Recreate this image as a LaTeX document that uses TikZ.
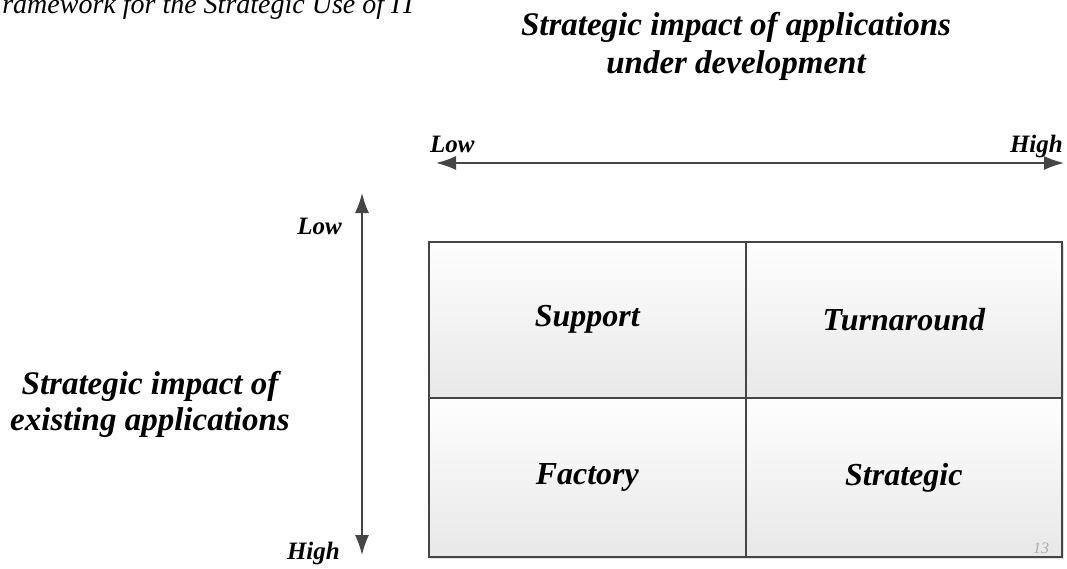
\documentclass[tikz,border=0pt]{standalone}
\usepackage{fontspec}
\setmainfont{Liberation Serif}
\usetikzlibrary{arrows.meta}
\definecolor{edge}{HTML}{454545}
\definecolor{celltop}{HTML}{FEFEFE}
\definecolor{cellbot}{HTML}{E8E8E8}
\tikzset{
  cell/.style={draw=edge, line width=1.6pt, top color=celltop, bottom color=cellbot, inner sep=0pt, font=\fontsize{32}{38}\selectfont\bfseries\itshape},
  axis/.style={draw=edge, line width=1.6pt, {Latex[length=20pt,width=14pt]}-{Latex[length=20pt,width=14pt]}},
  lbl/.style={font=\fontsize{25}{30}\selectfont\bfseries\itshape, inner sep=0pt},
  head/.style={font=\fontsize{33}{40}\selectfont\bfseries\itshape, align=center, inner sep=0pt}
}
\begin{document}
\begin{tikzpicture}[x=1pt,y=-1pt]
\useasboundingbox (0,0) rectangle (1067,568);
% outer shadow
\fill[black, opacity=0.12] (431,244) rectangle (1064,559);
% cells
\node[cell, anchor=north west, minimum width=317pt, minimum height=156pt] (sup) at (428,241) {Support};
\node[cell, anchor=north west, minimum width=316pt, minimum height=156pt] (tur) at (745,241) {Turnaround};
\node[cell, anchor=north west, minimum width=317pt, minimum height=159pt] (fac) at (428,397) {Factory};
\node[cell, anchor=north west, minimum width=316pt, minimum height=159pt] (str) at (745,397) {Strategic};
% axes
\coordinate (hl) at (436,163);
\coordinate (hr) at (1064,163);
\draw[axis] (hl) -- (hr);
\coordinate (vt) at (362,193);
\coordinate (vb) at (362,555);
\draw[axis] (vt) -- (vb);
% axis labels
\node[lbl, anchor=base west] (lowh) at (430,152) {Low};
\node[lbl, anchor=base east] (highh) at (1063,152) {High};
\node[lbl, anchor=base east] (lowv) at (342,234) {Low};
\node[lbl, anchor=base east] (highv) at (340,559) {High};
% headings
\node[head, anchor=base] (top) at (736,35) {Strategic impact of applications};
\node[head, anchor=base] (top2) at (736,73) {under development};
\node[head, anchor=base] (left) at (150,394) {Strategic impact of};
\node[head, anchor=base] (left2) at (150,430) {existing applications};
\node[font=\fontsize{28}{32}\selectfont\itshape, anchor=base west, inner sep=0pt] (frame) at (-15,13) {Framework for the Strategic Use of IT};
\node[font=\fontsize{16}{18}\selectfont\itshape, text=gray!65, inner sep=0pt] (pg) at (1041,548) {13};
\end{tikzpicture}
\end{document}
